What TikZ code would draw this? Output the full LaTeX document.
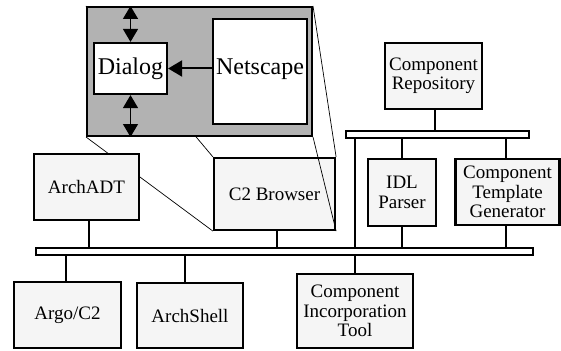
\documentclass[tikz,border=0pt]{standalone}
\usepackage{fontspec}
\setmainfont{Liberation Serif}
\usetikzlibrary{arrows.meta}
\pgfdeclarelayer{back}
\pgfdeclarelayer{mid}
\pgfsetlayers{back,mid,main}
\begin{document}
\begin{tikzpicture}[x=1pt,y=-1pt,
  comp/.style={draw,line width=2.2pt,fill=black!4,align=center,inner sep=0pt,font=\fontsize{19}{19.5}\selectfont},
  bus/.style={draw,line width=2pt,fill=white,inner sep=0pt},
  link/.style={line width=2pt},
  zoomline/.style={line width=0.7pt},
  big/.style={draw,line width=2.2pt,fill=white,inner sep=0pt,font=\fontsize{24}{26}\selectfont},
  tip/.style={-{Triangle[length=14pt,width=16pt]}},
  dtip/.style={{Triangle[length=13pt,width=15pt]}-{Triangle[length=13pt,width=15pt]}},
]
\useasboundingbox (0,0) rectangle (561,350);

% buses
\node[bus,minimum width=497pt,minimum height=7pt] (lbus) at (284.5,251.5) {};
\node[bus,minimum width=183pt,minimum height=7pt] (ubus) at (437.5,134.5) {};

% components
\node[comp,minimum width=105pt,minimum height=66pt] (archadt) at (86.5,187) {ArchADT};
\begin{pgfonlayer}{back}
\node[comp,minimum width=121pt,minimum height=72pt] (c2) at (274.5,194) {C2 Browser};
\end{pgfonlayer}
\node[comp,minimum width=68pt,minimum height=67pt] (idl) at (402,192.5) {IDL\\Parser};
\node[comp,minimum width=104pt,minimum height=66pt] (ctg) at (507.5,192) {Component\\Template\\Generator};
\node[comp,minimum width=97pt,minimum height=66pt] (repo) at (433.5,76) {Component\\Repository};
\node[comp,minimum width=107pt,minimum height=66pt] (argo) at (67.5,315) {Argo/C2};
\node[comp,minimum width=106pt,minimum height=65pt] (archshell) at (190,315.5) {ArchShell};
\node[comp,minimum width=116pt,minimum height=74pt] (cit) at (355,311) {Component\\Incorporation\\Tool};

% zoomed view
\node[draw,line width=2pt,fill=black!30,minimum width=225pt,minimum height=129pt,inner sep=0pt] (zoom) at (199.5,71.5) {};
\node[big,minimum width=73pt,minimum height=51pt] (dialog) at (130.5,68.5) {Dialog};
\node[big,minimum width=94pt,minimum height=105pt] (netscape) at (260,71.5) {};
\node[font=\fontsize{24}{26}\selectfont,inner sep=0pt] (nlabel) at (260,69) {Netscape};

\begin{pgfonlayer}{mid}
\draw[zoomline] (zoom.north west) -- (c2.north west);
\draw[zoomline] (zoom.south west) -- (c2.south west);
\draw[zoomline] (zoom.north east) -- (c2.north east);
\draw[zoomline] (zoom.south east) -- (c2.south east);
\end{pgfonlayer}

% arrows in zoomed view
\draw[link,tip] (netscape.west |- dialog.east) -- (dialog.east);
\draw[line width=1.5pt,dtip] (dialog.north) -- (dialog.north |- zoom.north);
\draw[line width=1.2pt,dtip] (dialog.south) -- (dialog.south |- zoom.south);

% connectors
\draw[link] ([xshift=2.5pt]archadt.south) -- ([xshift=2.5pt]archadt.south |- lbus.north);
\draw[link] ([xshift=2.5pt]c2.south) -- ([xshift=2.5pt]c2.south |- lbus.north);
\draw[link] (cit.north |- ubus.south) -- (cit.north |- lbus.north);
\draw[link] (cit.north) -- (cit.north |- lbus.south);
\draw[link] (idl.north) -- (idl.north |- ubus.south);
\draw[link] (idl.south) -- (idl.south |- lbus.north);
\draw[link] ([xshift=-1.5pt]ctg.north) -- ([xshift=-1.5pt]ctg.north |- ubus.south);
\draw[link] ([xshift=-1.5pt]ctg.south) -- ([xshift=-1.5pt]ctg.south |- lbus.north);
\draw[link] ([xshift=1.5pt]repo.south) -- ([xshift=1.5pt]repo.south |- ubus.north);
\draw[link] ([xshift=-1.5pt]argo.north) -- ([xshift=-1.5pt]argo.north |- lbus.south);
\draw[link] ([xshift=-5pt]archshell.north) -- ([xshift=-5pt]archshell.north |- lbus.south);
\end{tikzpicture}
\end{document}
